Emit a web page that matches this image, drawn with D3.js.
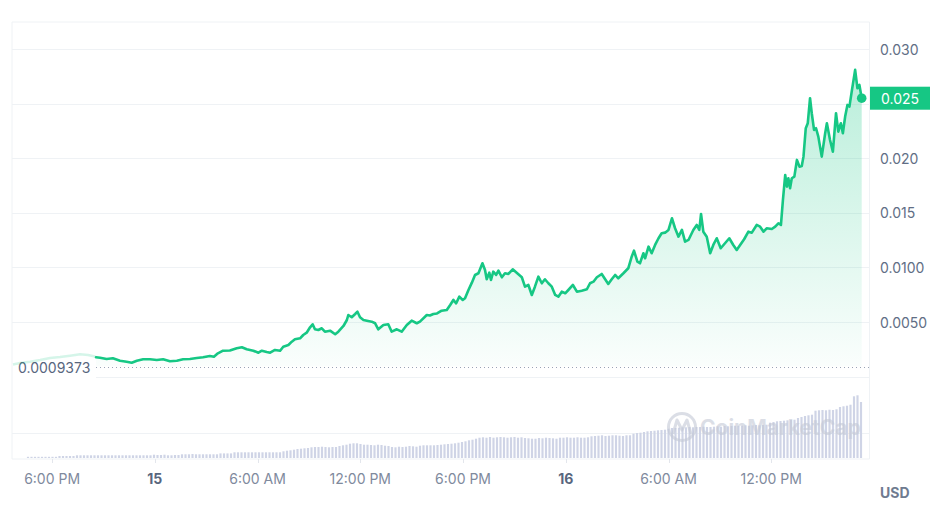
<!DOCTYPE html>
<html>
<head>
<meta charset="utf-8">
<script src="https://cdn.jsdelivr.net/npm/d3@7"></script>
<style>
html,body{margin:0;padding:0;background:#fff;}
#chart{width:943px;height:507px;}
</style>
</head>
<body>
<div id="chart"></div>
<script>
// minutes after 14th 15:43
var priceMinutes=[0,25,60,95,130,165,200,235,263,287,
	291,305,328,350,375,398,416,434,456,480,504,526,550,574,596,620,644,666,690,704,718,736,760,784,802,819,842,860,872,889,901,918,936,947,965,977,988,1006,1017,1029,1041,1050,1058,1070,1082,1093,1111,1129,1140,1158,1170,1175,1187,1199,1207,1216,1228,1240,1257,1269,1280,1298,1315,1327,1345,1362,1380,1397,1415,1426,1450,1461,1473,1486,1502,1520,1532,1543,1553,1564,1576,1584,1596,1608,1619,1631,1645,1654,1660,1669,1675,1683,1693,1701,1713,1724,1736,1751,1767,1783,1794,1806,1818,1829,1841,1853,1864,1876,1888,1900,1911,1923,1935,1946,1962,1976,1993,2011,2022,2034,2046,2063,2075,2086,2098,2110,2121,2139,2156,2168,2176,2188,2197,2209,2215,2227,2238,2250,2262,2273,2285,2297,2309,2320,2332,2344,2355,2367,2384,2396,2405,2411,2419,2431,2443,2454,2466,2480,2495,2510,2524,2536,2548,2562,2577,2589,2606,2618,2630,2641,2659,2671,2682,2691,2698,2706,2712,2717,2723,2729,2738,2747,2756,2764,2770,2778,2785,2793,2799,2807,2814,2822,2834,2846,2852,2863,2873,2884,2892,2901,2908,2916,2924,2931,2939,2951,2959,2966,2974];
var priceValues=[0.001109,0.001247,0.001366,0.001522,0.001705,0.001797,0.001916,0.002044,0.001980,0.001843,
	0.001769,0.001733,0.001614,0.001678,0.001458,0.001366,0.001274,0.001458,0.001586,0.001586,0.001522,0.001586,0.001403,0.001458,0.001586,0.001614,0.001705,0.001769,0.001889,0.001824,0.002136,0.002375,0.002393,0.002595,0.002686,0.002503,0.002375,0.002191,0.002375,0.002255,0.002191,0.002439,0.002375,0.002741,0.002897,0.003200,0.003420,0.003511,0.003814,0.004025,0.004520,0.004795,0.004336,0.004272,0.004428,0.004116,0.004208,0.003878,0.004116,0.004639,0.005189,0.005647,0.005437,0.005739,0.005950,0.005437,0.005189,0.005125,0.005033,0.004887,0.004336,0.004731,0.004795,0.004116,0.004336,0.004116,0.004731,0.005125,0.004887,0.005033,0.005647,0.005602,0.005739,0.005785,0.006042,0.006106,0.006564,0.007023,0.006720,0.007325,0.007023,0.007179,0.007939,0.008609,0.009315,0.009471,0.010387,0.009773,0.008920,0.009526,0.008856,0.009617,0.009315,0.009709,0.009104,0.009471,0.009406,0.009837,0.009471,0.009104,0.008242,0.008398,0.007481,0.008242,0.009159,0.008554,0.008920,0.008554,0.008242,0.007481,0.007325,0.007784,0.007637,0.007939,0.008398,0.007784,0.007875,0.008004,0.008554,0.008700,0.009104,0.009406,0.008920,0.008490,0.008920,0.009315,0.009012,0.009471,0.009929,0.010992,0.011543,0.010534,0.010387,0.011304,0.010846,0.011909,0.011304,0.012065,0.012679,0.013138,0.013193,0.013440,0.014513,0.013596,0.012826,0.013440,0.012368,0.012524,0.013440,0.013899,0.013440,0.014907,0.013284,0.012826,0.011304,0.012065,0.012679,0.011762,0.012221,0.012679,0.012065,0.011607,0.012065,0.012588,0.013284,0.013193,0.013899,0.013743,0.013284,0.013596,0.013532,0.013743,0.014054,0.013899,0.016191,0.018483,0.017410,0.018180,0.017263,0.018180,0.018327,0.019858,0.019244,0.019308,0.020160,0.022764,0.023222,0.025515,0.024139,0.022608,0.022764,0.021994,0.020160,0.022306,0.023222,0.021691,0.020619,0.024139,0.022452,0.023222,0.022306,0.023828,0.024900,0.024744,0.026120,0.028109,0.026431,0.026734,0.025515];
var fadeCount=11;	//points before the full line starts
var baseValue=0.0009373;
var startTime='2024-05-14 15:43';

var yTickValues=[0.005,0.010,0.015,0.020,0.025,0.030];
var yTickLabels=['0.0050','0.0100','0.015','0.020','0.025','0.030'];
var xTickTimes=['2024-05-14 18:00','2024-05-15 00:00','2024-05-15 06:00','2024-05-15 12:00','2024-05-15 18:00','2024-05-16 00:00','2024-05-16 06:00','2024-05-16 12:00'];
var xTickLabels=['6:00 PM','15','6:00 AM','12:00 PM','6:00 PM','16','6:00 AM','12:00 PM'];
var xTickBold=[false,true,false,false,false,true,false,false];

var volumeValues=[1.2,1.2,1.2,1.2,1.2,1.2,1.2,1.2,1.2,
	2,2,2,2,2,
	2.7,2.7,2.7,2.7,2.7,2.7,2.7,2.7,2.7,2.7,2.7,2.7,2.7,2.7,2.7,2.7,2.7,2.7,2.7,2.7,2.7,2.7,
	3.3,3,3,3.3,2.7,2.7,3,3,
	3.7,3.7,3.7,4,3.7,3.7,3.7,3.7,3.7,3.7,3.7,
	4.6,4.6,4.6,4.6,
	5.7,5.7,5.7,5.7,5.7,5.7,5.7,5.7,5.7,5.7,5.7,5.7,5.7,5.7,
	6.7,7.3,7.7,8.3,9,9.3,9.7,10,
	10.7,11,11,11.3,11,10.7,11,11,
	12,12.7,13.3,
	14.3,14.7,14.7,14,
	13.3,13.3,13,12.7,13.3,13,12.3,12,
	11,10.7,11.3,11,11.3,12,11.7,11.3,
	12.3,12.7,12.7,12.7,12.7,13,13.3,
	13.7,14,14.3,14.7,15.3,16,16.7,
	17.7,18.3,19.3,
	20.3,20.7,20.3,21,20.3,20.7,21,20.7,20.3,20.7,21,20.3,20.7,
	20,19.7,19.3,19.3,20,19.7,20.3,20,19.7,19.3,
	20.3,20.3,20.7,20.3,20.3,20.7,20.3,20.3,20.7,
	21.7,22,22.3,22.7,22,22.3,22.7,22.7,22.3,22,22.7,22.7,
	24.3,25,25.3,26,26.7,27,27.3,27.7,28,28.3,
	29.3,30,30,30.3,30.7,30.7,31,30.7,31,31,31.3,31,
	31,31.3,31.7,31.3,32,31.7,32,32.3,32,32.3,32.7,32.3,32.7,33,32.7,33,33.3,
	35.3,36,36.7,37,37.3,37.7,38,38.3,
	40,41,42,42.7,43.3,
	47.3,47.7,48,47.7,48.3,48,48.7,
	51,51.7,52.3,53.3,61.7,62.7,56];
var volumeGrid=25;

var W=943,H=507,
	padLeft=12,padRight=869.5,padTop=22,
	priceBottom=376.6,volBottom=458,axisY=459,
	green='#16c784',gridColor='#eff2f5';

var parse=d3.timeParse('%Y-%m-%d %H:%M'),
	t0=parse(startTime),
	points=priceMinutes.map(function(m,i){
		return {t:d3.timeMinute.offset(t0,m),v:priceValues[i]};
	}),
	last=points[points.length-1];

var svg=d3.select('#chart').append('svg')
	.attr('width',W).attr('height',H)
	.attr('font-family','Inter, "Noto Sans", sans-serif');

var x=d3.scaleTime().domain([points[0].t,last.t]).range([13,861.7]);
var y=d3.scaleLinear().domain([0,0.0325]).range([priceBottom,padTop]);
var xv=d3.scaleBand().domain(d3.range(volumeValues.length)).range([26.25,862.75]).paddingInner(0.38).paddingOuter(0.19);
var yv=d3.scaleLinear().domain([0,75]).range([volBottom,volBottom-75]);

// frame + grid
var gGrid=svg.append('g');
gGrid.append('line').attr('x1',padLeft).attr('x2',padRight).attr('y1',padTop).attr('y2',padTop);
gGrid.append('line').attr('x1',padLeft).attr('x2',padLeft).attr('y1',padTop).attr('y2',axisY);
gGrid.append('line').attr('x1',padRight).attr('x2',padRight).attr('y1',padTop).attr('y2',axisY);
gGrid.append('line').attr('x1',padLeft).attr('x2',padRight).attr('y1',axisY).attr('y2',axisY);
gGrid.selectAll('.yg').data(yTickValues).enter().append('line')
	.attr('x1',padLeft).attr('x2',padRight)
	.attr('y1',function(d){return Math.round(y(d))+0.5;})
	.attr('y2',function(d){return Math.round(y(d))+0.5;});
gGrid.append('line').attr('x1',96).attr('x2',padRight)
	.attr('y1',Math.round(y(0))+0.5).attr('y2',Math.round(y(0))+0.5);
gGrid.append('line').attr('x1',padLeft).attr('x2',padRight)
	.attr('y1',Math.round(yv(volumeGrid))+0.5).attr('y2',Math.round(yv(volumeGrid))+0.5);
gGrid.selectAll('line').attr('stroke',gridColor).attr('stroke-width',1);

// x ticks
var tickTimes=xTickTimes.map(parse);
svg.append('g').selectAll('line').data(tickTimes).enter().append('line')
	.attr('x1',function(d){return Math.round(x(d))+0.5;})
	.attr('x2',function(d){return Math.round(x(d))+0.5;})
	.attr('y1',axisY).attr('y2',axisY+4)
	.attr('stroke','#e3e6ec');

// volume
svg.append('g').selectAll('rect').data(volumeValues).enter().append('rect')
	.attr('x',function(d,i){return xv(i);})
	.attr('width',xv.bandwidth())
	.attr('y',function(d){return yv(d);})
	.attr('height',function(d){return volBottom-yv(d);})
	.attr('fill','#cfd4e6');

// watermark
var gMark=svg.append('g').attr('opacity',0.6);
gMark.append('circle').attr('cx',682).attr('cy',427).attr('r',13.5)
	.attr('fill','none').attr('stroke','#c4c9d6').attr('stroke-width',3);
gMark.append('path').attr('d','M673,434 L677,420 L682,430 L687,420 L691,434')
	.attr('fill','none').attr('stroke','#c4c9d6').attr('stroke-width',3).attr('stroke-linejoin','round');
gMark.append('text').text('CoinMarketCap').attr('x',700).attr('y',435)
	.attr('font-size',21).attr('font-weight',700).attr('fill','#c4c9d6');

// area gradient
var grad=svg.append('defs').append('linearGradient').attr('id','areaGrad')
	.attr('gradientUnits','userSpaceOnUse')
	.attr('x1',0).attr('x2',0).attr('y1',y(d3.max(priceValues))).attr('y2',y(baseValue));
grad.append('stop').attr('offset',0).attr('stop-color',green).attr('stop-opacity',0.3);
grad.append('stop').attr('offset',1).attr('stop-color',green).attr('stop-opacity',0.02);

var full=points.slice(fadeCount-1),
	faded=points.slice(0,fadeCount);

svg.append('path').datum(full)
	.attr('d',d3.area().x(function(d){return x(d.t);}).y0(y(baseValue)).y1(function(d){return y(d.v);}))
	.attr('fill','url(#areaGrad)');

// baseline
svg.append('line').attr('x1',96).attr('x2',padRight)
	.attr('y1',Math.round(y(baseValue))+1.5).attr('y2',Math.round(y(baseValue))+1.5)
	.attr('stroke','#9aa3b5').attr('stroke-dasharray','1,3');
svg.append('text').text(String(baseValue)).attr('x',18).attr('y',y(baseValue)+1.5)
	.attr('dominant-baseline','central').attr('font-size',14).attr('fill','#58667e');

var line=d3.line().x(function(d){return x(d.t);}).y(function(d){return y(d.v);});
svg.append('path').datum(faded).attr('d',line)
	.attr('fill','none').attr('stroke',green).attr('stroke-opacity',0.18).attr('stroke-width',2.5)
	.attr('stroke-linejoin','round');
svg.append('path').datum(full).attr('d',line)
	.attr('fill','none').attr('stroke',green).attr('stroke-width',2.6)
	.attr('stroke-linejoin','round').attr('stroke-linecap','round');
svg.append('circle').attr('cx',x(last.t)).attr('cy',y(last.v)).attr('r',4.8).attr('fill',green);

// y labels (the one under the price box is hidden)
var py=y(last.v);
svg.append('g').selectAll('text')
	.data(yTickValues.filter(function(d){return Math.abs(y(d)-py)>14;})).enter().append('text')
	.text(function(d){return yTickLabels[yTickValues.indexOf(d)];})
	.attr('x',880).attr('y',function(d){return y(d);})
	.attr('dominant-baseline','central').attr('font-size',14).attr('fill','#616e85');

// current price box
svg.append('rect').attr('x',870).attr('y',py-11.5).attr('width',60).attr('height',23).attr('fill',green);
svg.append('text').text((Math.floor(last.v*1000)/1000).toFixed(3))
	.attr('x',881).attr('y',py+0.5).attr('dominant-baseline','central')
	.attr('font-size',14).attr('fill','#fff');

// x labels
svg.append('g').selectAll('text').data(tickTimes).enter().append('text')
	.text(function(d,i){return xTickLabels[i];})
	.attr('x',function(d){return x(d);}).attr('y',478)
	.attr('text-anchor','middle').attr('dominant-baseline','central')
	.attr('font-size',14)
	.attr('font-weight',function(d,i){return xTickBold[i]?700:400;})
	.attr('fill',function(d,i){return xTickBold[i]?'#58667e':'#808a9d';});

svg.append('text').text('USD').attr('x',880).attr('y',492)
	.attr('dominant-baseline','central').attr('font-size',14).attr('font-weight',700).attr('fill','#6f7b90');
</script>
</body>
</html>
